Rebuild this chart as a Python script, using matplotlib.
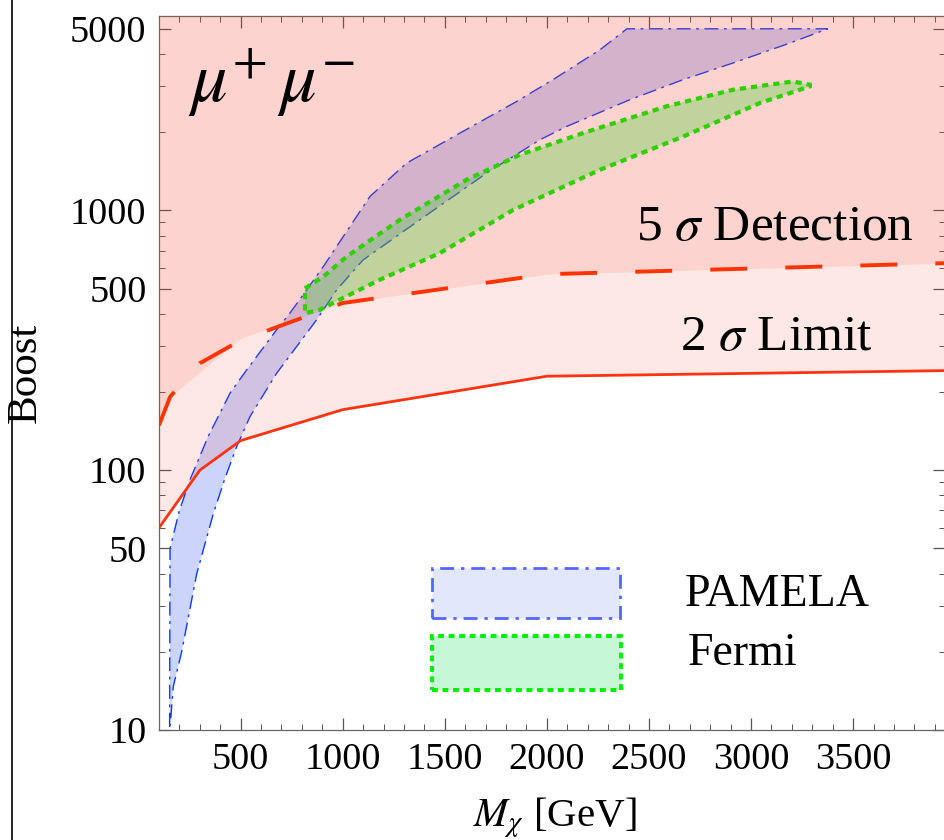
import matplotlib
matplotlib.use('Agg')
import matplotlib.pyplot as plt
import numpy as np
from matplotlib.patches import Polygon, Rectangle
from matplotlib.lines import Line2D
from matplotlib.ticker import FixedLocator, FixedFormatter, NullFormatter

plt.rcParams['font.family'] = ['Liberation Serif', 'DejaVu Serif']
plt.rcParams['mathtext.fontset'] = 'stix'

# ---- data (M_chi in GeV, Boost) ----
limit2_m = [100, 300, 500, 1000, 2000, 4000]
limit2_b = [60, 100, 130, 171, 230, 242]

det5_m = [100, 155, 300, 500, 1000, 2000, 4000]
det5_b = [149, 192, 258, 316, 440, 568, 628]
# lower boundary of the shaded 5 sigma region (smoother than the dashed line)
det5_region_m = [100, 155, 500, 1000, 2000, 4000]
det5_region_b = [149, 192, 322, 440, 568, 628]

pamela_upper_m = [152, 154, 200, 252, 341, 448, 529, 676, 741, 823, 905, 1003, 1133, 1313, 1574, 1852, 2029, 2260, 2392, 3376]
pamela_upper_b = [10.3, 50, 70, 92, 135, 198, 243, 347, 402, 494, 608, 794, 1131, 1521, 1984, 2626, 3183, 4150, 5000, 5000]
pamela_lower_m = [152, 158, 170, 211, 285, 366, 423, 480, 546, 676, 774, 872, 970, 1100, 1378, 1705, 1966, 2097, 2407, 2666, 2911, 3190, 3376]
pamela_lower_b = [10.3, 11.2, 14.7, 20, 40, 68, 93, 123, 161, 236, 299, 379, 494, 645, 920, 1392, 1870, 2104, 2668, 3183, 3690, 4405, 5000]

fermi_upper_m = [815, 905, 1019, 1280, 1607, 1868, 2178, 2586, 2912, 3206, 3288]
fermi_upper_b = [501, 556, 664, 920, 1312, 1637, 1985, 2515, 2913, 3135, 3045]
fermi_lower_m = [815, 888, 952, 1182, 1476, 1835, 2260, 2668, 3043, 3288]
fermi_lower_b = [402, 414, 440, 541, 685, 1004, 1433, 1925, 2589, 3000]

x_major = [500, 1000, 1500, 2000, 2500, 3000, 3500]
x_minor = [m for m in range(100, 4000, 100) if m % 500 != 0]
y_major = [10, 50, 100, 500, 1000, 5000]
y_major_labels = ['10', '50', '100', '500', '1000', '5000']
y_minor = [20, 30, 40, 60, 70, 80, 90, 200, 300, 400, 600, 700, 800, 900, 2000, 3000, 4000]

XMIN, XMAX = 100, 3950
YMIN, YMAX = 10, 5600

fig = plt.figure(figsize=(9.45, 8.4), dpi=100)
ax = fig.add_axes([159/945, 110/840, 786/945, 714/840])
ax.set_yscale('log')
ax.set_xlim(XMIN, XMAX)
ax.set_ylim(YMIN, YMAX)

# PAMELA band
pam_pts = np.column_stack([pamela_upper_m + pamela_lower_m[::-1],
                           pamela_upper_b + pamela_lower_b[::-1]])
ax.add_patch(Polygon(pam_pts, closed=True, facecolor=(0, 40/255, 240/255), alpha=0.2,
                     edgecolor='none', zorder=1))
ax.add_patch(Polygon(pam_pts, closed=True, facecolor='none', edgecolor='#073CFF',
                     lw=1.0, linestyle=(0, (10, 4, 2, 4)), zorder=1.5))

# Fermi band
fer_pts = np.column_stack([fermi_upper_m + fermi_lower_m[::-1],
                           fermi_upper_b + fermi_lower_b[::-1]])
ax.add_patch(Polygon(fer_pts, closed=True, facecolor=(0, 1, 40/255), alpha=0.3,
                     edgecolor='none', zorder=2))

# exclusion / detection regions (translucent overlays)
reg_col = (247/255, 72/255, 51/255)
ax.fill_between(limit2_m, limit2_b, YMAX, color=reg_col, alpha=0.125, lw=0, zorder=3)
ax.fill_between(det5_region_m, det5_region_b, YMAX, color=reg_col, alpha=0.125, lw=0, zorder=3)

ax.add_patch(Polygon(fer_pts, closed=True, facecolor='none', edgecolor='#2ED000',
                     lw=3.0, linestyle=(0, (1.5, 1.2)), zorder=4))

ax.plot(limit2_m, limit2_b, color='#FF3311', lw=2.0, zorder=5)
ax.plot(det5_m, det5_b, color='#FF3300', lw=2.8, linestyle=(0, (9.5, 9.8)), zorder=5)

# texts
ax.text(653, 2618, r'$\mu^{+}\,\mu^{-}$', fontsize=52, ha='center', va='baseline', zorder=6)
ax.text(3117, 771, r'5 $\sigma$ Detection', fontsize=37, ha='center', va='baseline', zorder=6)
ax.text(3126, 290, r'2 $\sigma$ Limit', fontsize=37, ha='center', va='baseline', zorder=6)

# legend (manual)
ax.add_patch(Rectangle((0.3473, 0.1569), 0.239, 0.070, transform=ax.transAxes,
                       facecolor='#E2E7FC', edgecolor='#5566FF', lw=2.0,
                       linestyle=(0, (5, 2.5, 1.2, 2.5)), zorder=6))
ax.add_patch(Rectangle((0.3473, 0.056), 0.241, 0.0756, transform=ax.transAxes,
                       facecolor='#C6F8D8', edgecolor='#00EE00', lw=2.8,
                       linestyle=(0, (1.5, 1.2)), zorder=6))
ax.text(0.669, 0.19, 'PAMELA', transform=ax.transAxes, fontsize=33,
        ha='left', va='center', zorder=6)
ax.text(0.673, 0.107, 'Fermi', transform=ax.transAxes, fontsize=33,
        ha='left', va='center', zorder=6)

# ticks
ax.xaxis.set_major_locator(FixedLocator(x_major))
ax.xaxis.set_minor_locator(FixedLocator(x_minor))
ax.xaxis.set_minor_formatter(NullFormatter())
ax.yaxis.set_major_locator(FixedLocator(y_major))
ax.yaxis.set_major_formatter(FixedFormatter(y_major_labels))
ax.yaxis.set_minor_locator(FixedLocator(y_minor))
ax.yaxis.set_minor_formatter(NullFormatter())
ax.tick_params(which='both', direction='in', top=True, right=True, color='#555555',
               labelsize=27.5, pad=9)
ax.tick_params(which='major', length=8.5, width=0.9)
ax.tick_params(which='minor', length=4.3, width=0.7)
for s in ax.spines.values():
    s.set_color('#666666')
    s.set_linewidth(0.9)

ax.set_xlabel(r'$M_\chi$ [GeV]', fontsize=29.5)
ax.set_ylabel('Boost', fontsize=31)
ax.xaxis.set_label_coords(0.504, -0.092)
ax.yaxis.set_label_coords(-0.145, 0.50)

fig.add_artist(Line2D([12/945, 12/945], [0, 1], color='black', lw=1.2,
                      transform=fig.transFigure))

fig.savefig('out.png', dpi=100)
